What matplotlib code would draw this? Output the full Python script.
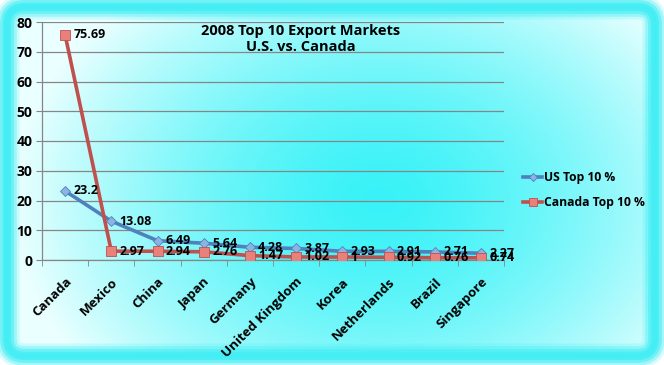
import matplotlib
matplotlib.use("Agg")
import matplotlib.pyplot as plt
import numpy as np
from matplotlib.patches import FancyBboxPatch

# ── Data ─────────────────────────────────────────────────────────────────────
countries = ["Canada", "Mexico", "China", "Japan", "Germany", "United Kingdom",
             "Korea", "Netherlands", "Brazil", "Singapore"]
us_top10 = [23.2, 13.08, 6.49, 5.64, 4.28, 3.87, 2.93, 2.91, 2.71, 2.27]
canada_top10 = [75.69, 2.97, 2.94, 2.76, 1.47, 1.02, 1, 0.92, 0.76, 0.74]
y_ticks = [0, 10, 20, 30, 40, 50, 60, 70, 80]

US_LINE, US_FILL = "#4f81bd", "#8db3e2"
CA_LINE, CA_FILL = "#c0504d", "#e8807c"
FONT = "Open Sans"

W, H = 664, 365
fig = plt.figure(figsize=(W / 100, H / 100), dpi=100)
fig.patch.set_facecolor("white")

# ── Background: rounded panel with cyan glow border + radial gradient ───────
bg = fig.add_axes([0, 0, 1, 1])
bg.set_xlim(0, W)
bg.set_ylim(H, 0)
bg.axis("off")

yy, xx = np.mgrid[0:H, 0:W]
u, v = xx / W, yy / H
d = np.sqrt(((u - 0.57) / 0.55) ** 2 + ((v - 0.55) / 0.75) ** 2)
t = np.clip(d, 0, 1) ** 1.5
cyan = np.array([0.22, 0.95, 0.97])
pale = np.array([0.92, 1.0, 1.0])
img = cyan[None, None, :] * (1 - t[..., None]) + pale[None, None, :] * t[..., None]

box = FancyBboxPatch((7, 7), W - 16, H - 16,
                     boxstyle="round,pad=0,rounding_size=18",
                     facecolor="none", edgecolor="none")
bg.add_patch(box)
im = bg.imshow(img, extent=(0, W, H, 0), aspect="auto", zorder=0)
im.set_clip_path(box)

# soft glow border
for lw, a in [(18, 0.2), (14, 0.35), (10, 0.55), (6, 0.8), (3, 1.0)]:
    bg.add_patch(FancyBboxPatch((7, 7), W - 16, H - 16,
                                boxstyle="round,pad=0,rounding_size=18",
                                facecolor="none", edgecolor="#45eef4",
                                linewidth=lw, alpha=a, zorder=1))

# ── Chart ────────────────────────────────────────────────────────────────────
ax = fig.add_axes([42 / W, 1 - 260 / H, (504 - 42) / W, (260 - 22) / H])
ax.patch.set_alpha(0)
x = np.arange(len(countries))

ax.plot(x, us_top10, color=US_LINE, linewidth=2.6, marker="D", markersize=5,
        markerfacecolor=US_FILL, markeredgecolor=US_LINE, markeredgewidth=0.6,
        label="US Top 10 %", zorder=3)
ax.plot(x, canada_top10, color=CA_LINE, linewidth=2.6, marker="s", markersize=7.5,
        markerfacecolor=CA_FILL, markeredgecolor=CA_LINE, markeredgewidth=0.6,
        label="Canada Top 10 %", zorder=4)

for series in (us_top10, canada_top10):
    for xi, val in zip(x, series):
        ax.annotate(f"{val:g}", (xi, val), xytext=(6, 0), textcoords="offset points",
                    va="center", ha="left", fontsize=9, fontweight="bold",
                    family=FONT, color="black", zorder=5)

ax.set_xlim(-0.5, len(countries) - 0.5)
ax.set_ylim(0, 80)
ax.set_yticks(y_ticks)
ax.set_xticks(x)
ax.set_xticks(np.arange(len(countries) + 1) - 0.5, minor=True)
ax.set_xticklabels(countries, rotation=45, ha="right", rotation_mode="anchor",
                   fontsize=9.5, fontweight="bold", family=FONT)
for lab in ax.get_yticklabels():
    lab.set_fontsize(10)
    lab.set_fontweight("bold")
    lab.set_family(FONT)

ax.tick_params(axis="x", which="major", length=0, pad=11)
ax.tick_params(axis="x", which="minor", length=4, color="#868686")
ax.tick_params(axis="y", length=4, color="#868686", pad=3)
ax.grid(axis="y", color="#868686", linewidth=0.9)
ax.set_axisbelow(True)
for s in ["top", "right"]:
    ax.spines[s].set_visible(False)
for s in ["left", "bottom"]:
    ax.spines[s].set_color("#868686")
    ax.spines[s].set_linewidth(0.9)

ax.text(0.56, 0.99, "2008 Top 10 Export Markets\nU.S. vs. Canada",
        transform=ax.transAxes, ha="center", va="top", fontsize=10.5,
        fontweight="bold", family=FONT, linespacing=1.15)

leg = fig.legend(loc="upper left", bbox_to_anchor=(512 / W, 1 - 160 / H),
                 frameon=False, handlelength=1.6, handletextpad=0.15,
                 labelspacing=1.0, markerscale=0.8,
                 prop={"family": FONT, "weight": "bold", "size": 8.7})

fig.savefig("out.png", dpi=100)
